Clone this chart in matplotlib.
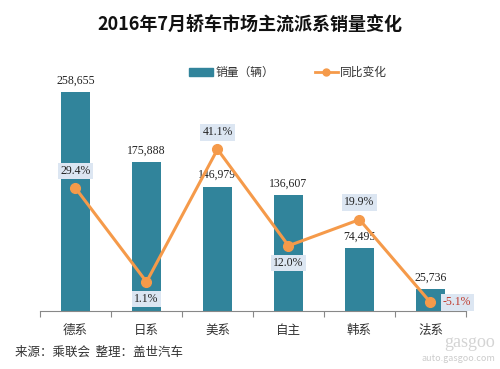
import matplotlib.pyplot as plt

plt.rcParams['font.family'] = ['Noto Sans CJK SC', 'DejaVu Sans']

categories = ['德系', '日系', '美系', '自主', '韩系', '法系']
sales = [258655, 175888, 146979, 136607, 74495, 25736]
yoy = [29.4, 1.1, 41.1, 12.0, 19.9, -5.1]
# where each percentage label sits relative to its point
yoy_pos = ['above', 'below', 'above', 'below', 'above', 'right']

bar_color = '#31849b'
line_color = '#f59a4a'
box_color = '#dce6f2'

fig = plt.figure(figsize=(5, 3.69), dpi=100)
ax = fig.add_axes([0.08, 0.157, 0.852, 0.689])
x = list(range(len(categories)))

ax.bar(x, sales, width=0.4, color=bar_color, zorder=1)
ax.set_xlim(-0.5, 5.5)
ax.set_ylim(0, 300000)
for xi, v in zip(x, sales):
    ax.annotate(f'{v:,}', (xi, v), xytext=(0, 4), textcoords='offset points',
                ha='center', va='bottom', fontsize=8.5,
                family='Liberation Serif', color='#222222')

for s in ['top', 'left', 'right']:
    ax.spines[s].set_visible(False)
ax.spines['bottom'].set_color('#888888')
ax.set_yticks([])
ax.set_xticks([i - 0.5 for i in range(7)])
ax.set_xticklabels([])
ax.tick_params(axis='x', length=4, color='#888888', direction='out')
for xi, c in zip(x, categories):
    ax.text(xi, -0.05, c, transform=ax.get_xaxis_transform(), ha='center',
            va='top', fontsize=9, color='#333333')

ax2 = ax.twinx()
ax2.plot(x, yoy, color=line_color, lw=2.2, marker='o', ms=7, zorder=3)
ax2.set_ylim(-7.7, 69)
ax2.axis('off')
for xi, v, p in zip(x, yoy, yoy_pos):
    if p == 'above':
        off, ha, va = (0, 8), 'center', 'bottom'
    elif p == 'below':
        off, ha, va = (0, -8), 'center', 'top'
    else:
        off, ha, va = (9, 0), 'left', 'center'
    ax2.annotate(f'{v:.1f}%', (xi, v), xytext=off, textcoords='offset points',
                 ha=ha, va=va, fontsize=8.5, family='Liberation Serif',
                 color='#c0392b' if v < 0 else '#222222',
                 bbox=dict(boxstyle='square,pad=0.2', fc=box_color, ec='none'))

fig.text(0.5, 0.935, '2016年7月轿车市场主流派系销量变化', ha='center',
         va='center', fontsize=13, fontweight='bold', color='#111111')

# legend
fig.patches.append(plt.Rectangle((0.378, 0.793), 0.048, 0.022,
                                 transform=fig.transFigure, color=bar_color))
fig.text(0.432, 0.804, '销量（辆）', ha='left', va='center', fontsize=8.5,
         color='#333333')
fig.lines.append(plt.Line2D([0.63, 0.675], [0.804, 0.804],
                            transform=fig.transFigure, color=line_color, lw=2))
fig.lines.append(plt.Line2D([0.6525], [0.804], transform=fig.transFigure,
                            color=line_color, marker='o', ms=5))
fig.text(0.68, 0.804, '同比变化', ha='left', va='center', fontsize=8.5,
         color='#333333')

fig.text(0.03, 0.045, '来源：乘联会  整理：盖世汽车', ha='left', va='center',
         fontsize=9, style='italic', fontweight='medium', color='#333333')

# watermark
fig.text(0.99, 0.072, 'gasgoo', ha='right', va='center', fontsize=13,
         color='#d4d4d4', family='Liberation Serif')
fig.text(0.99, 0.028, 'auto.gasgoo.com', ha='right', va='center', fontsize=6.5,
         color='#cccccc')

fig.savefig('out.png', dpi=100)
